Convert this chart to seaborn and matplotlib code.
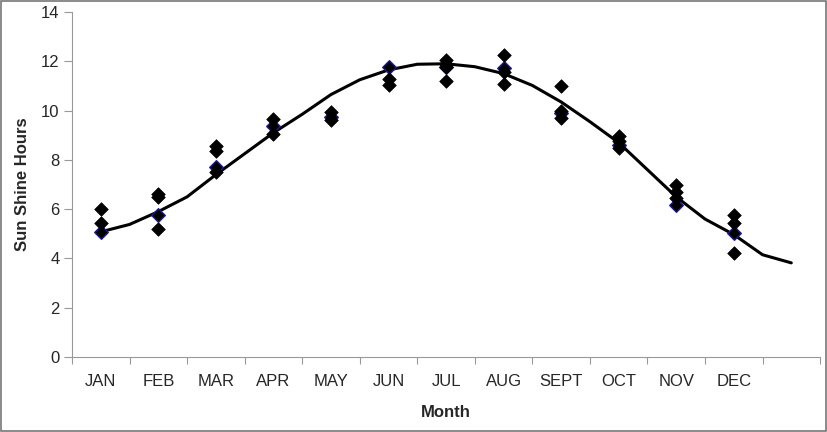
import numpy as np
import pandas as pd
import matplotlib
matplotlib.use("Agg")
import matplotlib.pyplot as plt
import seaborn as sns
from matplotlib.patches import Rectangle

# month labels (13th slot is empty, the curve runs into it)
months = ["JAN", "FEB", "MAR", "APR", "MAY", "JUN",
          "JUL", "AUG", "SEPT", "OCT", "NOV", "DEC", ""]

# observed sunshine hours per month (black diamonds)
obs_jan = [6.0, 5.45]
obs_feb = [6.6, 6.5, 5.2]
obs_mar = [8.55, 8.35, 7.5]
obs_apr = [9.65, 9.05]
obs_may = [9.95, 9.6]
obs_jun = [11.3, 11.05]
obs_jul = [12.05, 11.9, 11.75, 11.2]
obs_aug = [12.25, 11.55, 11.08]
obs_sep = [11.0, 10.0, 9.7]
obs_oct = [8.95, 8.75, 8.5]
obs_nov = [7.0, 6.7, 6.45]
obs_dec = [5.75, 5.45, 4.22]

# monthly mean (navy-edged diamonds)
mean_hours = [5.08, 5.78, 7.7, 9.38, 9.75, 11.77, 11.75, 11.72, 9.9, 8.62, 6.17, 5.03]

# fitted curve, read at half-month steps
curve_month = [0, 0.5, 1, 1.5, 2, 2.5, 3, 3.5, 4, 4.5, 5, 5.5, 6,
               6.5, 7, 7.5, 8, 8.5, 9, 9.5, 10, 10.5, 11, 11.5, 12]
curve_hours = [5.08, 5.38, 5.9, 6.5, 7.4, 8.25, 9.1, 9.85, 10.65, 11.25, 11.65, 11.88, 11.9,
               11.78, 11.5, 11.02, 10.35, 9.55, 8.7, 7.6, 6.5, 5.6, 4.97, 4.15, 3.82]

all_obs = [obs_jan, obs_feb, obs_mar, obs_apr, obs_may, obs_jun,
           obs_jul, obs_aug, obs_sep, obs_oct, obs_nov, obs_dec]
obs_df = pd.DataFrame(
    [(i, v) for i, vals in enumerate(all_obs) for v in vals],
    columns=["month", "hours"])
mean_df = pd.DataFrame({"month": range(12), "hours": mean_hours})
curve_df = pd.DataFrame({"month": curve_month, "hours": curve_hours})

sns.set_style("white")
plt.rcParams["font.family"] = ["Liberation Sans", "DejaVu Sans"]

fig = plt.figure(figsize=(8.28, 4.32), dpi=100)
ax = fig.add_axes([0.087, 0.1736, 0.9034, 0.7986])

sns.lineplot(data=curve_df, x="month", y="hours", sort=False,
             color="black", linewidth=2.2, ax=ax, zorder=2)
sns.scatterplot(data=mean_df, x="month", y="hours", marker="D", s=48,
                color="black", edgecolor="#1a1a90", linewidth=1.0, ax=ax, zorder=3)
sns.scatterplot(data=obs_df, x="month", y="hours", marker="D", s=48,
                color="black", edgecolor="black", linewidth=0.5, ax=ax, zorder=4)

ax.set_xlim(-0.5, 12.5)
ax.set_ylim(0, 14)
ax.set_yticks(range(0, 15, 2))
ax.set_xticks(range(13))
ax.set_xticklabels(months)
ax.set_xticks(np.arange(-0.5, 13, 1), minor=True)
ax.tick_params(axis="x", which="major", length=0, pad=12, labelsize=12)
ax.tick_params(axis="x", which="minor", length=5, width=0.8, color="#999999", direction="out")
ax.tick_params(axis="y", length=6, width=0.8, color="#999999", direction="out",
               labelsize=12, pad=3)
ax.tick_params(bottom=True, left=True, which="both")

for side in ["top", "right"]:
    ax.spines[side].set_visible(False)
for side in ["left", "bottom"]:
    ax.spines[side].set_color("#999999")
    ax.spines[side].set_linewidth(0.8)

ax.set_xlabel("Month", fontsize=12, fontweight="bold", labelpad=12)
ax.set_ylabel("Sun Shine Hours", fontsize=12, fontweight="bold", labelpad=8)
ax.grid(False)

fig.patches.append(Rectangle((0.001, 0.002), 0.997, 0.996, transform=fig.transFigure,
                             fill=False, edgecolor="#777777", linewidth=1.2))

fig.savefig("out.png", dpi=100)
